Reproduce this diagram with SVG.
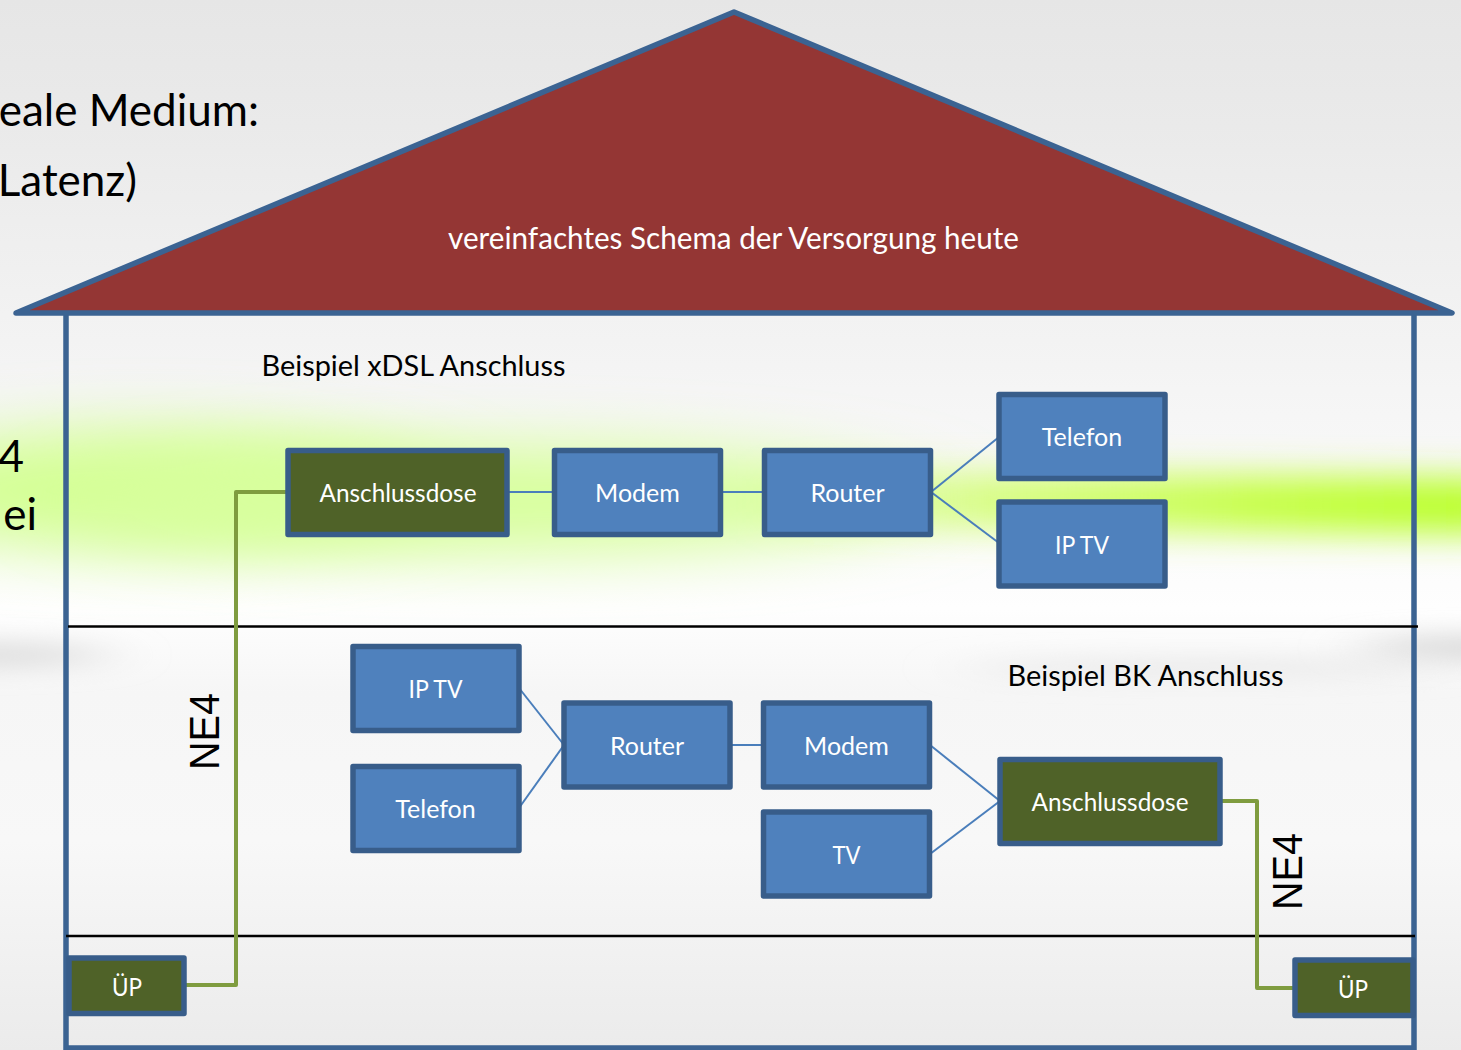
<svg xmlns="http://www.w3.org/2000/svg" width="1461" height="1050" viewBox="0 0 1461 1050">
<style>
text{font-family:"Lato","Carlito","Noto Sans",sans-serif}
.b{fill:#4f81bd;stroke:#385d8a;stroke-width:5.5;stroke-linejoin:round}
.g{fill:#4f6228;stroke:#385d8a;stroke-width:5.5;stroke-linejoin:round}
.l{fill:#fff;font-size:25px;text-anchor:middle}
.k{fill:#000;font-size:29px}
.big{fill:#000;font-size:44px}
.ne{fill:#000;font-size:43px;font-family:"Liberation Sans",sans-serif}
.c{fill:none;stroke:#4a7ebb;stroke-width:2}
.gc{fill:none;stroke:#7f9c3f;stroke-width:4;stroke-linejoin:round}
.h{stroke:#000;stroke-width:2.5}
</style>
<defs>
<linearGradient id="bg" x1="0" y1="0" x2="0" y2="1">
<stop offset="0" stop-color="#e6e6e6"/><stop offset=".12" stop-color="#eaeaea"/><stop offset=".3" stop-color="#f2f2f2"/><stop offset=".42" stop-color="#f7f7f7"/><stop offset=".58" stop-color="#fefefe"/><stop offset=".66" stop-color="#f6f6f6"/><stop offset=".8" stop-color="#f8f8f8"/><stop offset="1" stop-color="#ebebeb"/>
</linearGradient>
<linearGradient id="fade" x1="0" y1="0" x2="1" y2="0">
<stop offset="0" stop-color="#c4ff40" stop-opacity="0"/><stop offset=".3" stop-color="#c8ff50" stop-opacity=".7"/><stop offset=".7" stop-color="#c4ff40"/><stop offset="1" stop-color="#b8ff28"/>
</linearGradient>
<filter id="bl" x="-30%" y="-100%" width="160%" height="300%"><feGaussianBlur stdDeviation="50 30"/></filter>
<filter id="bl2" x="-10%" y="-200%" width="120%" height="500%"><feGaussianBlur stdDeviation="30 17"/></filter>
<filter id="bl3" x="-50%" y="-200%" width="200%" height="500%"><feGaussianBlur stdDeviation="30 12"/></filter>
</defs>
<rect width="1461" height="1050" fill="url(#bg)"/>
<g id="glow">
<ellipse cx="150" cy="490" rx="300" ry="62" fill="#d4ff94" filter="url(#bl)"/>
<ellipse cx="500" cy="500" rx="420" ry="55" fill="#d8ff9e" filter="url(#bl)"/>
<path d="M760 470L1520 478V535L760 528Z" fill="url(#fade)" filter="url(#bl2)"/>
<ellipse cx="-20" cy="655" rx="130" ry="12" fill="#dcdcdc" filter="url(#bl3)"/>
<ellipse cx="1480" cy="648" rx="120" ry="12" fill="#d8d8d8" filter="url(#bl3)"/>
<ellipse cx="1200" cy="668" rx="240" ry="8" fill="#e6e6e6" filter="url(#bl3)"/>
</g>
<g id="bgtext">
<text class="big" x="259" y="126" text-anchor="end">eale Medium:</text>
<text class="big" x="137" y="196" text-anchor="end">Latenz)</text>
<text class="big" x="24" y="472" text-anchor="end">4</text>
<text class="big" x="37" y="530" text-anchor="end">ei</text>
</g>
<g id="house">
<path d="M66 313V1048H1414V313" fill="none" stroke="#3b6392" stroke-width="5.5"/>
<path d="M734 12L1452 313H16Z" fill="#943634" stroke="#3b6392" stroke-width="5.5" stroke-linejoin="round"/>
<text x="733.500" y="248.500" fill="#fff" font-size="30" text-anchor="middle" textLength="571" lengthAdjust="spacingAndGlyphs">vereinfachtes Schema der Versorgung heute</text>
</g>
<g id="dividers">
<line class="h" x1="68" y1="626.500" x2="1418" y2="626.500"/>
<line class="h" x1="66" y1="936" x2="1415" y2="936"/>
</g>
<g id="connectors">
<path class="c" d="M508 492H554"/>
<path class="c" d="M721 492H764"/>
<path class="c" d="M931 492L999 437"/>
<path class="c" d="M931 492L999 543"/>
<path class="c" d="M519 688L564 745"/>
<path class="c" d="M519 808L564 745"/>
<path class="c" d="M730 745H763"/>
<path class="c" d="M930 745L1000 801"/>
<path class="c" d="M930 854L1000 801"/>
<path class="gc" d="M186 985H236V492H288"/>
<path class="gc" d="M1220 801H1257V988H1295"/>
</g>
<g id="ue-left"><rect class="g" x="69" y="958" width="115" height="55.500"/><text class="l" x="127" y="995.500" textLength="30" lengthAdjust="spacingAndGlyphs">ÜP</text></g>
<g id="ue-right"><rect class="g" x="1295" y="960" width="118" height="55.500"/><text class="l" x="1353" y="997.500" textLength="30" lengthAdjust="spacingAndGlyphs">ÜP</text></g>
<g id="t-xdsl"><text class="k" x="261.500" y="376" textLength="304" lengthAdjust="spacingAndGlyphs">Beispiel xDSL Anschluss</text></g>
<g id="t-bk"><text class="k" x="1007.500" y="686" textLength="276" lengthAdjust="spacingAndGlyphs">Beispiel BK Anschluss</text></g>
<g id="a1"><rect class="g" x="288" y="450.500" width="219" height="84"/><text class="l" x="398" y="501.500" textLength="157" lengthAdjust="spacingAndGlyphs">Anschlussdose</text></g>
<g id="m1"><rect class="b" x="554.500" y="450.500" width="166" height="84"/><text class="l" x="637.500" y="501.500">Modem</text></g>
<g id="r1"><rect class="b" x="764.500" y="450.500" width="166" height="84"/><text class="l" x="847.500" y="501.500">Router</text></g>
<g id="t1"><rect class="b" x="999" y="394.500" width="166" height="84"/><text class="l" x="1082" y="445.500">Telefon</text></g>
<g id="i1"><rect class="b" x="999" y="502" width="166" height="84"/><text class="l" x="1082" y="553.500" textLength="54" lengthAdjust="spacingAndGlyphs">IP TV</text></g>
<g id="i2"><rect class="b" x="353" y="646.500" width="166" height="84"/><text class="l" x="435.500" y="697.500" textLength="54" lengthAdjust="spacingAndGlyphs">IP TV</text></g>
<g id="t2"><rect class="b" x="353" y="766.500" width="166" height="84"/><text class="l" x="435.500" y="817.500">Telefon</text></g>
<g id="r2"><rect class="b" x="564" y="703" width="166" height="84"/><text class="l" x="647" y="754.500">Router</text></g>
<g id="m2"><rect class="b" x="763.500" y="703" width="166" height="84"/><text class="l" x="846.500" y="754.500">Modem</text></g>
<g id="tv"><rect class="b" x="763.500" y="812" width="166" height="84"/><text class="l" x="846.500" y="863.500" textLength="28" lengthAdjust="spacingAndGlyphs">TV</text></g>
<g id="a2"><rect class="g" x="1000" y="759.500" width="220" height="84"/><text class="l" x="1110" y="810.500" textLength="157" lengthAdjust="spacingAndGlyphs">Anschlussdose</text></g>
<g id="ne-left"><text class="ne" transform="translate(218.500 770) rotate(-90)" textLength="77" lengthAdjust="spacingAndGlyphs">NE4</text></g>
<g id="ne-right"><text class="ne" transform="translate(1302 910) rotate(-90)" textLength="77" lengthAdjust="spacingAndGlyphs">NE4</text></g>
</svg>
